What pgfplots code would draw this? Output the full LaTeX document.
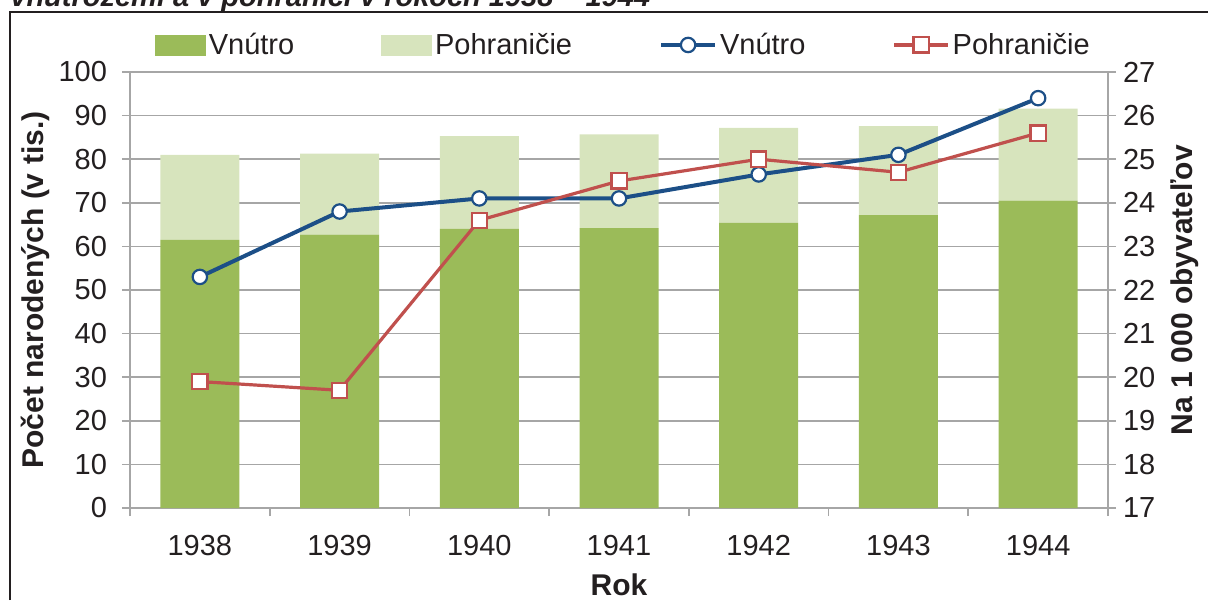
\documentclass[border=0pt]{standalone}
\usepackage{pgfplots}
\usepackage{pgfplotstable}
\pgfplotsset{compat=1.18}
\usepackage{fontspec}
\setmainfont{Liberation Sans}
\definecolor{dgreen}{HTML}{9BBB59}
\definecolor{lgreen}{HTML}{D7E4BD}
\definecolor{lblue}{HTML}{1C4F87}
\definecolor{lred}{HTML}{C0504D}
\definecolor{gridgray}{HTML}{A6A6A6}
\definecolor{txt}{HTML}{231F20}

\pgfplotsset{
  linelegend/.style={legend image code/.code={\draw[##1, mark repeat=2, mark phase=2] plot coordinates {(0pt,0pt) (13.5pt,0pt) (27pt,0pt)};}},
  dglegend/.style={legend image code/.code={\fill[dgreen] (0pt,-5pt) rectangle (25pt,5pt);}},
  lglegend/.style={legend image code/.code={\fill[lgreen] (0pt,-5pt) rectangle (25pt,5pt);}},
}

\pgfplotstableread{
x vn po
0 61.5 19.5
1 62.7 18.6
2 64.0 21.3
3 64.2 21.5
4 65.4 21.8
5 67.2 20.4
6 70.5 21.1
}\bars

\pgfplotstableread{
x vn po
0 22.3 19.9
1 23.8 19.7
2 24.1 23.6
3 24.1 24.5
4 24.65 25.0
5 25.1 24.7
6 26.4 25.6
}\lines

\newcommand{\fs}{\fontsize{14.5}{17}\selectfont}
\newcommand{\fl}{\bfseries\fontsize{15}{18}\selectfont}

\begin{document}
\begin{tikzpicture}
\useasboundingbox (0,0) rectangle (604pt,300pt);
\node[anchor=base west, inner sep=0pt, text=txt, font=\fontsize{14.5}{17}\selectfont\bfseries\itshape] at (5pt,296.5pt) {vnútrozemí a v pohraničí v rokoch 1938 – 1944};
\draw[line width=1pt, color=txt] (5pt,0pt) -- (5pt,294pt) -- (604pt,294pt);

\begin{axis}[
  at={(65pt,46pt)}, anchor=south west,
  scale only axis, width=489pt, height=218pt,
  xmin=-0.5, xmax=6.5, ymin=0, ymax=100,
  ybar stacked, bar width=39.5pt,
  axis y line*=left, axis x line*=bottom,
  axis line style={gridgray, line width=0.8pt},
  xtick={0,...,6},
  xticklabels={1938,1939,1940,1941,1942,1943,1944},
  major x tick style={draw=none},
  minor xtick={-0.5,0.5,...,6.5},
  minor x tick style={gridgray, line width=0.8pt},
  minor tick length=4pt,
  ytick={0,10,...,100},
  y tick style={gridgray, line width=0.8pt},
  major tick length=4pt,
  tick align=outside,
  ymajorgrids,
  grid style={gridgray, line width=0.8pt},
  /pgf/number format/assume math mode=true,
  tick label style={font=\fs, text=txt},
  xticklabel style={yshift=-6pt},
  yticklabel style={xshift=-4pt},
  ylabel={Počet narodených (v tis.)},
  xlabel={Rok},
  every axis y label/.style={at={(axis description cs:-0.097,0.5)}, rotate=90, anchor=center, font=\fl, text=txt},
  every axis x label/.style={at={(axis description cs:0.5,-0.1766)}, anchor=center, font=\fl, text=txt},
  clip=false,
]
\addplot[fill=dgreen, draw=none] table[x=x, y=vn] {\bars};
\addplot[fill=lgreen, draw=none] table[x=x, y=po] {\bars};
\end{axis}

\begin{axis}[
  at={(65pt,46pt)}, anchor=south west,
  scale only axis, width=489pt, height=218pt,
  xmin=-0.5, xmax=6.5, ymin=17, ymax=27,
  axis y line*=right, axis x line=none,
  axis line style={gridgray, line width=0.8pt},
  ytick={17,...,27},
  y tick style={gridgray, line width=0.8pt},
  major tick length=4pt,
  tick align=outside,
  /pgf/number format/assume math mode=true,
  tick label style={font=\fs, text=txt},
  ylabel={Na 1 000 obyvateľov},
  every axis y label/.style={at={(axis description cs:1.0787,0.5)}, rotate=90, anchor=center, font=\fl, text=txt},
  clip=false,
  legend columns=4,
  legend style={draw=none, fill=none, font=\fs, text=txt,
    at={(0.505,1.062)}, anchor=center,
    /tikz/every even column/.append style={column sep=42pt},
    nodes={inner sep=1.5pt}},
]
\addlegendimage{dglegend}
\addlegendentry{Vnútro}
\addlegendimage{lglegend}
\addlegendentry{Pohraničie}
\addplot[lblue, line width=2pt, mark=*, mark size=3.6pt, mark options={fill=white, draw=lblue, line width=1.1pt}, linelegend]
  table[x=x, y=vn] {\lines};
\addlegendentry{Vnútro}
\addplot[lred, line width=1.6pt, mark=square*, mark size=3.8pt, mark options={fill=white, draw=lred, line width=1.1pt}, linelegend]
  table[x=x, y=po] {\lines};
\addlegendentry{Pohraničie}
\end{axis}
\end{tikzpicture}
\end{document}
